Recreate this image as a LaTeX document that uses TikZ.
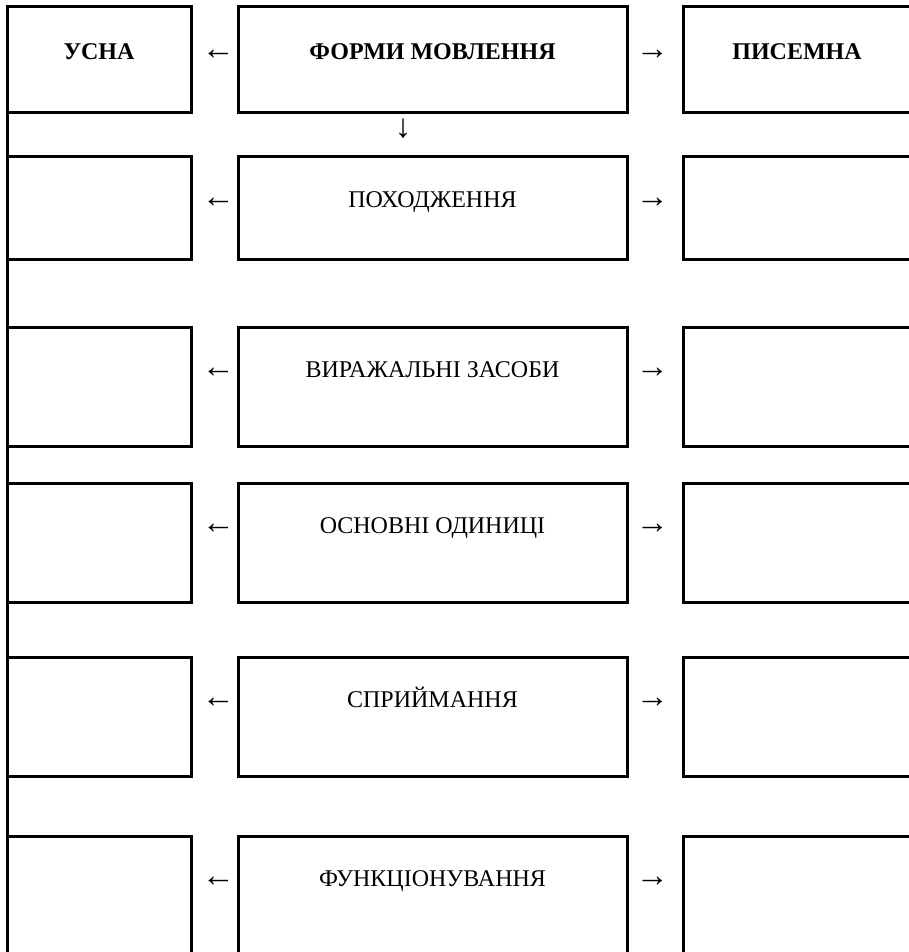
\documentclass[tikz,border=0pt]{standalone}
\usepackage{fontspec}
\setmainfont{Liberation Serif}
\usetikzlibrary{positioning}

\begin{document}
\begin{tikzpicture}[x=0.5pt, y=-0.5pt,
    every node/.style = {font=\fontsize{12}{14}\selectfont},
    cell/.style = {draw, line width=1.5pt, inner sep=0pt, outer sep=0pt, text height=6pt},
    lcell/.style = {cell, minimum width=92pt},
    mcell/.style = {cell, minimum width=194.5pt},
    rcell/.style = {cell, minimum width=114pt},
    head/.style = {font=\fontsize{12}{14}\selectfont\bfseries},
    arr/.style = {inner sep=0pt, font=\fontsize{16.5}{18}\selectfont}]
    \useasboundingbox (0,0) rectangle (909,952);
    \clip (0,0) rectangle (909,952);

    % left column
    \node[lcell, head, anchor=north west, minimum height=53pt, text depth=6pt] (l1) at (7,7) {УСНА};
    \node[lcell, minimum height=51pt, text depth=7pt] (l2) [below=22pt of l1] {};
    \node[lcell, minimum height=59.5pt, text depth=15.5pt] (l3) [below=34pt of l2] {};
    \node[lcell, minimum height=59.5pt, text depth=15.5pt] (l4) [below=18.5pt of l3] {};
    \node[lcell, minimum height=59.5pt, text depth=15.5pt] (l5) [below=27.5pt of l4] {};
    \node[lcell, minimum height=65pt, text depth=21pt] (l6) [below=30pt of l5] {};
    \draw[line width=1.5pt] (l1.north west) -- (l6.south west);

    % middle column
    \node[mcell, head, minimum height=53pt, text depth=6pt] (m1) [right=23.5pt of l1] {ФОРМИ МОВЛЕННЯ};
    \node[mcell, minimum height=51pt, text depth=7pt] (m2) [right=23.5pt of l2] {ПОХОДЖЕННЯ};
    \node[mcell, minimum height=59.5pt, text depth=15.5pt] (m3) [right=23.5pt of l3] {ВИРАЖАЛЬНІ ЗАСОБИ};
    \node[mcell, minimum height=59.5pt, text depth=15.5pt] (m4) [right=23.5pt of l4] {ОСНОВНІ ОДИНИЦІ};
    \node[mcell, minimum height=59.5pt, text depth=15.5pt] (m5) [right=23.5pt of l5] {СПРИЙМАННЯ};
    \node[mcell, minimum height=65pt, text depth=21pt] (m6) [right=23.5pt of l6] {ФУНКЦІОНУВАННЯ};

    % right column
    \node[rcell, head, minimum height=53pt, text depth=6pt] (r1) [right=28pt of m1] {ПИСЕМНА};
    \node[rcell, minimum height=51pt, text depth=7pt] (r2) [right=28pt of m2] {};
    \node[rcell, minimum height=59.5pt, text depth=15.5pt] (r3) [right=28pt of m3] {};
    \node[rcell, minimum height=59.5pt, text depth=15.5pt] (r4) [right=28pt of m4] {};
    \node[rcell, minimum height=59.5pt, text depth=15.5pt] (r5) [right=28pt of m5] {};
    \node[rcell, minimum height=65pt, text depth=21pt] (r6) [right=28pt of m6] {};

    % arrows
    \node[arr, right=5.25pt of l1.base east, anchor=base west] (al1) {←};
    \node[arr, right=5.25pt of l2.base east, anchor=base west] (al2) {←};
    \node[arr, right=5.25pt of l3.base east, anchor=base west] (al3) {←};
    \node[arr, right=5.25pt of l4.base east, anchor=base west] (al4) {←};
    \node[arr, right=5.25pt of l5.base east, anchor=base west] (al5) {←};
    \node[arr, right=5.25pt of l6.base east, anchor=base west] (al6) {←};

    \node[arr, right=4.25pt of m1.base east, anchor=base west] (ar1) {→};
    \node[arr, right=4.25pt of m2.base east, anchor=base west] (ar2) {→};
    \node[arr, right=4.25pt of m3.base east, anchor=base west] (ar3) {→};
    \node[arr, right=4.25pt of m4.base east, anchor=base west] (ar4) {→};
    \node[arr, right=4.25pt of m5.base east, anchor=base west] (ar5) {→};
    \node[arr, right=4.25pt of m6.base east, anchor=base west] (ar6) {→};

    \node[arr] (ad) at (403,129) {↓};

\end{tikzpicture}
\end{document}
